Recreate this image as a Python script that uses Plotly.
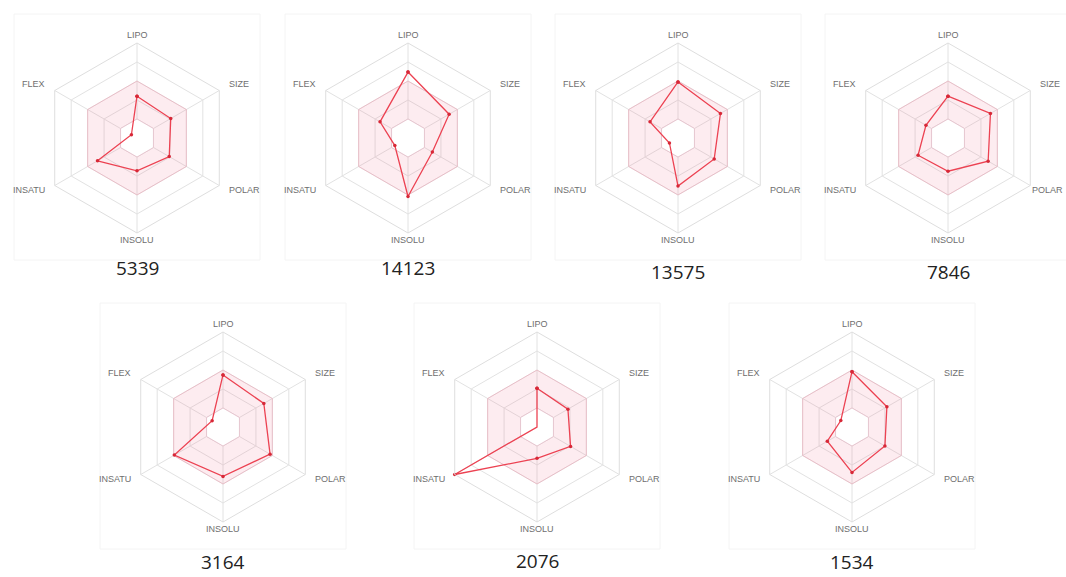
import math
import plotly.graph_objects as go

# ---- data ----
axes_names = ["LIPO", "SIZE", "POLAR", "INSOLU", "INSATU", "FLEX"]
compound_ids = ["5339", "14123", "13575", "7846", "3164", "2076", "1534"]
v_5339 = [2.2, 2.05, 1.96, 1.73, 2.4, 0.34]
v_14123 = [3.47, 2.5, 1.48, 3.08, 0.8, 1.7]
v_13575 = [2.95, 2.58, 2.2, 2.53, 0.52, 1.7]
v_7846 = [2.2, 2.58, 2.44, 1.75, 1.82, 1.34]
v_3164 = [2.74, 2.48, 2.86, 2.6, 2.96, 0.66]
v_2076 = [2.04, 1.88, 2.04, 1.65, 5.0, 0.0]
v_1534 = [2.91, 2.12, 2.0, 2.39, 1.5, 0.68]
optimal_low = [1, 1, 1, 1, 1, 1]
optimal_high = [3, 3, 3, 3, 3, 3]
ring_ticks = [1, 2, 3, 4, 5]

series = [v_5339, v_14123, v_13575, v_7846, v_3164, v_2076, v_1534]

# ---- layout (pixel positions of panel centres) ----
W, H = 1066, 577
R = 95
centres = [(137, 138), (408, 138), (678, 138), (948, 138),
           (223, 427), (537, 427), (852, 427)]
title_pos = [(137, 268), (408, 268), (678, 272), (948, 272),
             (223, 562), (537, 561), (852, 562)]

fig = go.Figure()
theta = axes_names + [axes_names[0]]


def closed(v):
    return list(v) + [v[0]]


for i, vals in enumerate(series):
    sp = "polar" if i == 0 else f"polar{i+1}"
    fig.add_trace(go.Scatterpolar(
        r=closed(optimal_high), theta=theta, subplot=sp, mode="lines",
        fill="toself", fillcolor="rgba(240,110,140,0.13)",
        line=dict(color="rgba(240,150,170,0.4)", width=1),
        hoverinfo="skip", showlegend=False))
    fig.add_trace(go.Scatterpolar(
        r=closed(optimal_low), theta=theta, subplot=sp, mode="lines",
        fill="toself", fillcolor="white",
        line=dict(color="rgba(230,195,205,0.9)", width=1),
        hoverinfo="skip", showlegend=False))
    fig.add_trace(go.Scatterpolar(
        r=closed(vals), theta=theta, subplot=sp, mode="lines+markers",
        line=dict(color="rgb(236,66,82)", width=1.3),
        marker=dict(color="rgb(215,40,55)", size=3.5),
        showlegend=False, name=compound_ids[i]))

    cx, cy = centres[i]
    polar_cfg = dict(
        domain=dict(x=[(cx - R) / W, (cx + R) / W],
                    y=[1 - (cy + R) / H, 1 - (cy - R) / H]),
        gridshape="linear",
        bgcolor="rgba(0,0,0,0)",
        radialaxis=dict(range=[0, 5], tickvals=ring_ticks, showticklabels=False,
                        ticks="", showline=False, gridcolor="#e2e2e2", gridwidth=1),
        angularaxis=dict(rotation=90, direction="clockwise",
                         showline=True, linecolor="#dedede", linewidth=1,
                         gridcolor="#e2e2e2", ticks="", showticklabels=False),
    )
    fig.update_layout(**{sp: polar_cfg})

    # axis labels placed just outside the outer hexagon
    for k, name in enumerate(axes_names):
        ang = math.radians(90 - 60 * k)
        dx, dy = math.cos(ang), math.sin(ang)
        if abs(dx) < 1e-6:
            rr = R + 8 if dy > 0 else R + 7
            xa = "center"
        else:
            rr = R + 9
            xa = "left" if dx > 0 else "right"
        px = cx + dx * rr
        py = cy - dy * rr - (2 if abs(dx) > 1e-6 and dy > 0 else 0)
        # keep labels inside the page
        est_w = 5.6 * len(name)
        if xa == "left" and px + est_w > W - 1:
            px, xa = W - 1, "right"
        fig.add_annotation(x=px / W, y=1 - py / H, xref="paper", yref="paper",
                           text=name, showarrow=False, xanchor=xa, yanchor="middle",
                           font=dict(family="Liberation Sans, Arial", size=9, color="#6e6e6e"))

    # faint panel frame
    fig.add_shape(type="rect", xref="paper", yref="paper",
                  x0=(cx - 123) / W, x1=(cx + 123) / W,
                  y0=1 - (cy + 122) / H, y1=1 - (cy - 124) / H,
                  line=dict(color="#f4f4f4", width=1), layer="below")

    tx, ty = title_pos[i]
    fig.add_annotation(x=tx / W, y=1 - ty / H, xref="paper", yref="paper",
                       text=compound_ids[i], showarrow=False,
                       xanchor="center", yanchor="middle",
                       font=dict(family="Open Sans, Lato, sans-serif", size=19, color="#222222"))

fig.update_layout(width=W, height=H, margin=dict(l=0, r=0, t=0, b=0),
                  paper_bgcolor="white", plot_bgcolor="white")

fig.write_html("out.html")
